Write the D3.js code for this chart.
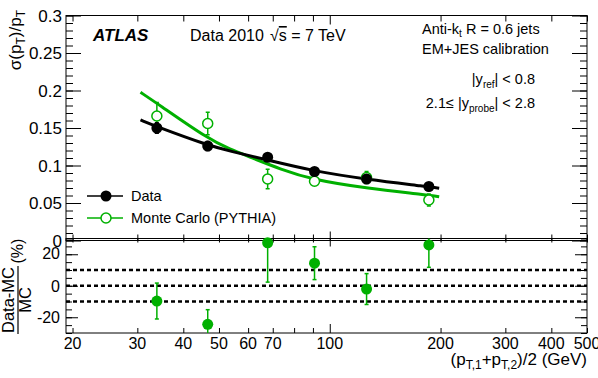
<!DOCTYPE html>
<html>
<head>
<meta charset="utf-8">
<script src="https://cdn.jsdelivr.net/npm/d3@7"></script>
<style>
body { margin: 0; background: #fff; }
svg text { font-family: "Liberation Sans", Arial, Helvetica, sans-serif; fill: #000; }
</style>
</head>
<body>
<svg id="chart" width="598" height="378"></svg>
<script>
// values

var ptBins = [33.9, 46.6, 67.8, 90.9, 125.9, 185.9];
var dataRes = [0.150, 0.126, 0.111, 0.092, 0.082, 0.072];
var dataErr = [0.007, 0.006, 0.004, 0.003, 0.003, 0.003];
var mcRes = [0.166, 0.156, 0.082, 0.079, 0.084, 0.054];
var mcErr = [0.018, 0.015, 0.013, 0.004, 0.008, 0.008];
var ratio = [-9.7, -24.5, 27.3, 14.3, -2.1, 25.9];
var ratioErr = [11.4, 9.3, 25, 10.4, 9.8, 14.2];

// fit curves
var fitPtData = [30.6, 33.9, 46.4, 53.7, 67.5, 90.3, 126.0, 185.9, 198.3];
var fitData = [0.1607, 0.1517, 0.1273, 0.1190, 0.1075, 0.0925, 0.0816, 0.0717, 0.0696];
var fitPtMC = [30.6, 33.9, 46.4, 53.7, 61.0, 73.0, 90.3, 126.0, 185.9, 198.3];
var fitMC = [0.1976, 0.1830, 0.1363, 0.1213, 0.1110, 0.0955, 0.0807, 0.0696, 0.0607, 0.0584];

// axis ticks
var xMinorTicks = [20, 30, 40, 50, 60, 70, 80, 90, 200, 300, 400, 500];
var xMajorTicks = [100];
var xTickLabels = [20, 30, 40, 50, 60, 70, 100, 200, 300, 400, 500];
var yTopMajor = [0, 0.05, 0.1, 0.15, 0.2, 0.25, 0.3];
var yTopLabels = ['0', '0.05', '0.1', '0.15', '0.2', '0.25', '0.3'];
var yBotMajor = [-20, 0, 20];
var yBotLabels = ['-20', '0', '20'];
var dashedLevels = [-10, 0, 10];

var green = '#00b000';

var svg = d3.select('#chart');

var x = d3.scaleLog().domain([19.2, 500]).range([66, 587]);
var yTop = d3.scaleLinear().domain([0, 0.3]).range([240.5, 15.5]);
var yBot = d3.scaleLinear().domain([-30, 30]).range([333, 238.5]);

// helper for inward tick marks
function tickMarks(axisFn, scale, values, size, transform) {
    var g = svg.append('g')
        .attr('transform', transform)
        .style('color', '#000')
        .call(axisFn(scale).tickValues(values).tickSize(size).tickFormat(''));
    g.select('.domain').remove();
    return g;
}

var yTopMinor = d3.range(0, 0.3001, 0.01);
var yBotMinor = d3.range(-30, 30.001, 5);

// top panel ticks
tickMarks(d3.axisLeft, yTop, yTopMinor, -7, 'translate(66,0)');
tickMarks(d3.axisLeft, yTop, yTopMajor, -15, 'translate(66,0)');
tickMarks(d3.axisRight, yTop, yTopMinor, -7, 'translate(587,0)');
tickMarks(d3.axisRight, yTop, yTopMajor, -15, 'translate(587,0)');
tickMarks(d3.axisBottom, x, xMinorTicks, -6, 'translate(0,240.5)');
tickMarks(d3.axisBottom, x, xMajorTicks, -9, 'translate(0,240.5)');
tickMarks(d3.axisTop, x, xMinorTicks, -6, 'translate(0,15.5)');
tickMarks(d3.axisTop, x, xMajorTicks, -9, 'translate(0,15.5)');

// bottom panel ticks
tickMarks(d3.axisLeft, yBot, yBotMinor, -6, 'translate(66,0)');
tickMarks(d3.axisLeft, yBot, yBotMajor, -12, 'translate(66,0)');
tickMarks(d3.axisRight, yBot, yBotMinor, -6, 'translate(587,0)');
tickMarks(d3.axisRight, yBot, yBotMajor, -12, 'translate(587,0)');
tickMarks(d3.axisTop, x, xMinorTicks, -4, 'translate(0,238.5)');
tickMarks(d3.axisTop, x, xMajorTicks, -8, 'translate(0,238.5)');
tickMarks(d3.axisBottom, x, xMinorTicks, -5, 'translate(0,333)');
tickMarks(d3.axisBottom, x, xMajorTicks, -9, 'translate(0,333)');

// frames
svg.append('rect')
    .attr('x', 66).attr('y', 15.5)
    .attr('width', 521).attr('height', 225)
    .attr('fill', 'none').attr('stroke', '#000').attr('stroke-width', 1);
svg.append('rect')
    .attr('x', 66).attr('y', 238.5)
    .attr('width', 521).attr('height', 94.5)
    .attr('fill', 'none').attr('stroke', '#000').attr('stroke-width', 1);

// tick labels
svg.selectAll('.ytop-label')
    .data(yTopMajor)
    .enter().append('text')
    .attr('class', 'ytop-label')
    .attr('x', 62)
    .attr('y', function(d) { return yTop(d) + 6; })
    .attr('text-anchor', 'end')
    .attr('font-size', 17)
    .text(function(d, i) { return yTopLabels[i]; });

svg.selectAll('.ybot-label')
    .data(yBotMajor)
    .enter().append('text')
    .attr('class', 'ybot-label')
    .attr('x', 60)
    .attr('y', function(d) { return yBot(d) + (d > 0 ? 4.5 : 6); })
    .attr('text-anchor', 'end')
    .attr('font-size', 16)
    .text(function(d, i) { return yBotLabels[i]; });

svg.selectAll('.x-label')
    .data(xTickLabels)
    .enter().append('text')
    .attr('class', 'x-label')
    .attr('x', function(d) { return x(d); })
    .attr('y', 349)
    .attr('text-anchor', 'middle')
    .attr('font-size', 16)
    .text(function(d) { return d; });

// dashed reference lines
svg.selectAll('.dash')
    .data(dashedLevels)
    .enter().append('line')
    .attr('x1', 66).attr('x2', 587)
    .attr('y1', function(d) { return yBot(d); })
    .attr('y2', function(d) { return yBot(d); })
    .attr('stroke', '#000')
    .attr('stroke-width', 2.5)
    .attr('stroke-dasharray', '4,3');

// fit curves
function fitLine(pts, vals) {
    return d3.line()
        .x(function(d, i) { return x(pts[i]); })
        .y(function(d) { return yTop(d); })
        .curve(d3.curveBasis)(vals);
}
svg.append('path').attr('d', fitLine(fitPtMC, fitMC))
    .attr('fill', 'none').attr('stroke', green).attr('stroke-width', 3);
svg.append('path').attr('d', fitLine(fitPtData, fitData))
    .attr('fill', 'none').attr('stroke', '#000').attr('stroke-width', 3);

// error bars with small end caps
function errorBars(vals, errs, scale, color, cls) {
    var g = svg.append('g').attr('class', cls);
    ptBins.forEach(function(p, i) {
        var cx = x(p);
        var y1 = scale(vals[i] - errs[i]);
        var y2 = scale(vals[i] + errs[i]);
        g.append('line').attr('x1', cx).attr('x2', cx).attr('y1', y1).attr('y2', y2)
            .attr('stroke', color).attr('stroke-width', 1.5);
        [y1, y2].forEach(function(yy) {
            g.append('line').attr('x1', cx - 2).attr('x2', cx + 2).attr('y1', yy).attr('y2', yy)
                .attr('stroke', color).attr('stroke-width', 1.5);
        });
    });
    return g;
}

errorBars(mcRes, mcErr, yTop, green, 'mc-err');
errorBars(dataRes, dataErr, yTop, '#000', 'data-err');

svg.selectAll('.mc-pt')
    .data(mcRes)
    .enter().append('circle')
    .attr('cx', function(d, i) { return x(ptBins[i]); })
    .attr('cy', function(d) { return yTop(d); })
    .attr('r', 5)
    .attr('fill', '#fff')
    .attr('stroke', green)
    .attr('stroke-width', 1.5);

svg.selectAll('.data-pt')
    .data(dataRes)
    .enter().append('circle')
    .attr('cx', function(d, i) { return x(ptBins[i]); })
    .attr('cy', function(d) { return yTop(d); })
    .attr('r', 5.5)
    .attr('fill', '#000');

// ratio panel
svg.append('clipPath').attr('id', 'botclip')
    .append('rect').attr('x', 66).attr('y', 238.5).attr('width', 521).attr('height', 94.5);
errorBars(ratio, ratioErr, yBot, green, 'ratio-err').attr('clip-path', 'url(#botclip)');

svg.selectAll('.ratio-pt')
    .data(ratio)
    .enter().append('circle')
    .attr('cx', function(d, i) { return x(ptBins[i]); })
    .attr('cy', function(d) { return yBot(d); })
    .attr('r', 5.5)
    .attr('fill', green);

// legend
svg.append('line').attr('x1', 87).attr('x2', 123).attr('y1', 196).attr('y2', 196)
    .attr('stroke', '#000').attr('stroke-width', 1.5);
svg.append('circle').attr('cx', 106).attr('cy', 196).attr('r', 5.5).attr('fill', '#000');
svg.append('text').attr('x', 131).attr('y', 201).attr('font-size', 14.5).text('Data');

svg.append('line').attr('x1', 87).attr('x2', 123).attr('y1', 218).attr('y2', 218)
    .attr('stroke', green).attr('stroke-width', 1.5);
svg.append('circle').attr('cx', 106).attr('cy', 218).attr('r', 5)
    .attr('fill', '#fff').attr('stroke', green).attr('stroke-width', 1.5);
svg.append('text').attr('x', 131).attr('y', 223).attr('font-size', 14.5).text('Monte Carlo (PYTHIA)');

// labels on the plot
svg.append('text').attr('x', 93).attr('y', 41)
    .attr('font-size', 17).attr('font-weight', 'bold').attr('font-style', 'italic')
    .text('ATLAS');

svg.append('text').attr('x', 190).attr('y', 41).attr('font-size', 16).text('Data 2010');
var sqrtLbl = svg.append('text').attr('x', 270).attr('y', 41).attr('font-size', 16);
sqrtLbl.append('tspan').text('\u221A');
sqrtLbl.append('tspan').style('text-decoration', 'overline').text('s');
sqrtLbl.append('tspan').text(' = 7 TeV');

var l1 = svg.append('text').attr('x', 422).attr('y', 34).attr('font-size', 14.5);
l1.append('tspan').text('Anti-k');
l1.append('tspan').attr('font-size', 10).attr('dy', 3).text('t');
l1.append('tspan').attr('dy', -3).text(' R = 0.6 jets');

svg.append('text').attr('x', 422).attr('y', 54).attr('font-size', 14.5).text('EM+JES calibration');

var l3 = svg.append('text').attr('x', 535).attr('y', 84).attr('font-size', 14.5).attr('text-anchor', 'end');
l3.append('tspan').text('|y');
l3.append('tspan').attr('font-size', 10).attr('dy', 4).text('ref');
l3.append('tspan').attr('dy', -4).text('| < 0.8');

var l4 = svg.append('text').attr('x', 535).attr('y', 108).attr('font-size', 14.5).attr('text-anchor', 'end');
l4.append('tspan').text('2.1\u2264 |y');
l4.append('tspan').attr('font-size', 10).attr('dy', 4).text('probe');
l4.append('tspan').attr('dy', -4).text('| < 2.8');

// axis titles
var yt = svg.append('text')
    .attr('transform', 'translate(21,10) rotate(-90)')
    .attr('text-anchor', 'end')
    .attr('font-size', 17);
yt.append('tspan').text('\u03C3(p');
yt.append('tspan').attr('font-size', 12).attr('dy', 4).text('T');
yt.append('tspan').attr('dy', -4).text(')/p');
yt.append('tspan').attr('font-size', 12).attr('dy', 4).text('T');

var rt = svg.append('g').attr('transform', 'translate(17,300) rotate(-90)');
rt.append('text').attr('x', 0).attr('y', -3).attr('text-anchor', 'middle').attr('font-size', 16.5).text('Data-MC');
rt.append('line').attr('x1', -34).attr('x2', 34).attr('y1', 1).attr('y2', 1)
    .attr('stroke', '#000').attr('stroke-width', 1.2);
rt.append('text').attr('x', 0).attr('y', 14).attr('text-anchor', 'middle').attr('font-size', 16.5).text('MC');
rt.append('text').attr('x', 49).attr('y', 6).attr('text-anchor', 'middle').attr('font-size', 16).text('(%)');

var xt = svg.append('text').attr('x', 587).attr('y', 365)
    .attr('text-anchor', 'end').attr('font-size', 17);
xt.append('tspan').text('(p');
xt.append('tspan').attr('font-size', 12).attr('dy', 4).text('T,1');
xt.append('tspan').attr('dy', -4).text('+p');
xt.append('tspan').attr('font-size', 12).attr('dy', 4).text('T,2');
xt.append('tspan').attr('dy', -4).text(')/2 (GeV)');
</script>
</body>
</html>
